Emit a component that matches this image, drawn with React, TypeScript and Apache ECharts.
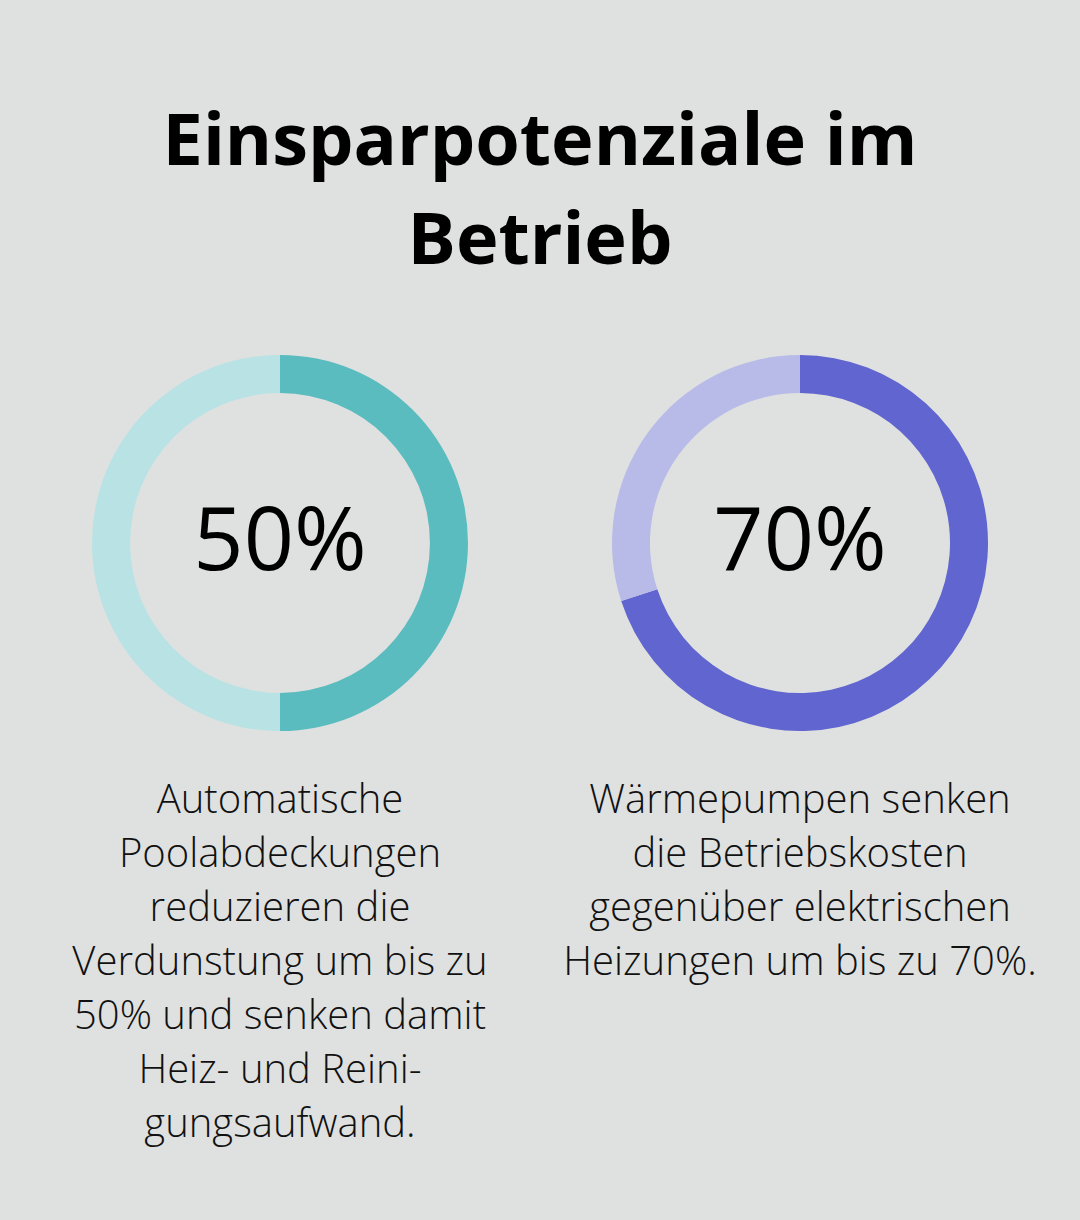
import React, { useEffect, useRef } from "react";
import * as echarts from "echarts";

// Savings figures shown as two progress rings
const titleLines = ["Einsparpotenziale im", "Betrieb"];
const shareValues = [50, 70];
const ringColors = ["#5bbcbf", "#6065cf"];
const ringTrackColors = ["#b8e2e4", "#b8bbe8"];
const descriptions = [
  [
    "Automatische",
    "Poolabdeckungen",
    "reduzieren die",
    "Verdunstung um bis zu",
    "50% und senken damit",
    "Heiz- und Reini-",
    "gungsaufwand.",
  ],
  [
    "Wärmepumpen senken",
    "die Betriebskosten",
    "gegenüber elektrischen",
    "Heizungen um bis zu 70%.",
  ],
];

const WIDTH = 1080;
const HEIGHT = 1220;
const centersX = [280, 800];
const centerY = 543;
const FONT = "'Open Sans', 'Noto Sans', sans-serif";

export default function App() {
  const ref = useRef<HTMLDivElement>(null);

  useEffect(() => {
    if (!ref.current) return;
    const chart = echarts.init(ref.current, undefined, { renderer: "svg" });

    const series = shareValues.map((v, i) => ({
      type: "pie",
      center: [centersX[i], centerY],
      radius: [150, 188],
      startAngle: 90,
      clockwise: true,
      silent: true,
      label: { show: false },
      labelLine: { show: false },
      data: [
        { value: v, itemStyle: { color: ringColors[i] } },
        { value: 100 - v, itemStyle: { color: ringTrackColors[i] } },
      ],
    }));

    const graphics: any[] = [];
    titleLines.forEach((line, i) => {
      graphics.push({
        type: "text",
        x: WIDTH / 2,
        y: 137 + i * 99,
        style: {
          text: line,
          fill: "#000000",
          font: `bold 72px ${FONT}`,
          textAlign: "center",
          textVerticalAlign: "middle",
        },
      });
    });
    shareValues.forEach((v, i) => {
      graphics.push({
        type: "text",
        x: centersX[i],
        y: centerY - 7,
        style: {
          text: `${v}%`,
          fill: "#000000",
          font: `normal 88px ${FONT}`,
          textAlign: "center",
          textVerticalAlign: "middle",
        },
      });
    });
    descriptions.forEach((lines, i) => {
      lines.forEach((line, j) => {
        graphics.push({
          type: "text",
          x: centersX[i],
          y: 797 + j * 54,
          style: {
            text: line,
            fill: "#111111",
            font: `300 40px ${FONT}`,
            textAlign: "center",
            textVerticalAlign: "middle",
          },
        });
      });
    });

    chart.setOption({
      animation: false,
      backgroundColor: "#dfe1e0",
      series,
      graphic: graphics,
    });

    return () => chart.dispose();
  }, []);

  return (
    <div
      ref={ref}
      style={{ position: "fixed", left: 0, top: 0, width: WIDTH, height: HEIGHT }}
    />
  );
}
